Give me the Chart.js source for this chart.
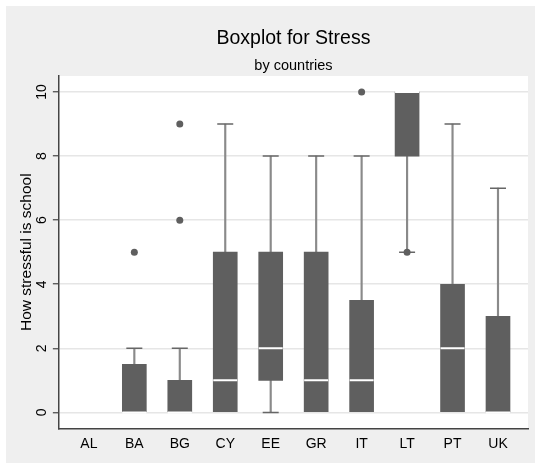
<!DOCTYPE html>
<html lang="en">
<head>
  <meta charset="UTF-8">
  <title>Boxplot for Stress</title>
  <script src="https://cdn.jsdelivr.net/npm/chart.js"></script>
  <style>
    body { margin: 0; background: #fff; }
  </style>
</head>
<body>
  <canvas id="chart" width="535" height="463"></canvas>

  <script>
    // box plot summary per country
    const countries = ['AL', 'BA', 'BG', 'CY', 'EE', 'GR', 'IT', 'LT', 'PT', 'UK'];
    const lowerAdj = [0, 0, 0, 0, 0, 0, 0, 5, 0, 0];
    const q1       = [0, 0, 0, 0, 1, 0, 0, 8, 0, 0];
    const medians  = [0, 0, 0, 1, 2, 1, 1, 10, 2, 0];
    const q3       = [0, 1.5, 1, 5, 5, 5, 3.5, 10, 4, 3];
    const upperAdj = [0, 2, 2, 9, 8, 8, 8, 10, 9, 7];
    const outliers = [[], [5], [6, 9], [], [], [], [10], [5], [], []];
    const yTicks = [0, 2, 4, 6, 8, 10];

    const SANS = "'Liberation Sans', Arial, sans-serif";
    const BOX = '#5f5f5f';

    const whiskers = [], boxes = [], mids = [], caps = [], dots = [];
    countries.forEach((c, i) => {
      if (upperAdj[i] > q3[i]) {
        whiskers.push({ x: i, y: [q3[i], upperAdj[i]] });
        caps.push({ x: i, y: upperAdj[i] });
      }
      if (lowerAdj[i] < q1[i]) {
        whiskers.push({ x: i, y: [lowerAdj[i], q1[i]] });
        caps.push({ x: i, y: lowerAdj[i] });
      }
      if (q3[i] > q1[i]) {
        boxes.push({ x: i, y: [q1[i], q3[i]] });
        mids.push({ x: i, y: medians[i] });
      }
      outliers[i].forEach(v => dots.push({ x: i, y: v }));
    });

    const panel = {
      id: 'panel',
      beforeDraw(chart) {
        const { ctx, chartArea: a } = chart;
        ctx.save();
        ctx.fillStyle = '#fff';
        ctx.fillRect(0, 0, chart.width, chart.height);
        ctx.fillStyle = '#efefef';
        ctx.fillRect(6, 6, chart.width - 6, chart.height - 6);
        ctx.fillStyle = '#fff';
        ctx.fillRect(a.left, a.top, a.right - a.left, a.bottom - a.top);
        ctx.restore();
      }
    };

    new Chart(document.getElementById('chart'), {
      type: 'bar',
      data: {
        datasets: [
          { data: whiskers, backgroundColor: '#8a8a8a', barThickness: 1.5, maxBarThickness: 1.5,
            grouped: false, borderWidth: 0, order: 5 },
          { data: boxes, backgroundColor: BOX, barThickness: 24, maxBarThickness: 24,
            grouped: false, borderWidth: 0, order: 4 },
          { type: 'scatter', data: mids, pointStyle: 'line', pointRadius: 12,
            pointBorderColor: '#fff', pointBorderWidth: 2, order: 3 },
          { type: 'scatter', data: caps, pointStyle: 'line', pointRadius: 8,
            pointBorderColor: '#666', pointBorderWidth: 1.5, order: 2 },
          { type: 'scatter', data: dots, pointStyle: 'circle', pointRadius: 3.5,
            pointBackgroundColor: BOX, pointBorderWidth: 0, order: 1 }
        ]
      },
      options: {
        responsive: false,
        animation: false,
        events: [],
        layout: { autoPadding: false, padding: { top: 6, left: 6, right: 7, bottom: 2.6 } },
        plugins: {
          legend: { display: false },
          tooltip: { enabled: false },
          title: {
            display: true, fullSize: false, text: 'Boxplot for Stress', color: '#000',
            font: { family: SANS, size: 19.5, weight: 'normal' },
            padding: { top: 20.8, bottom: 0 }
          },
          subtitle: {
            display: true, fullSize: false, text: 'by countries', color: '#000',
            font: { family: SANS, size: 14.5 },
            padding: { top: 6.6, bottom: 1.8 }
          }
        },
        scales: {
          x: {
            type: 'linear', min: -0.66, max: 9.66, offset: false,
            afterBuildTicks: axis => { axis.ticks = countries.map((c, i) => ({ value: i })); },
            ticks: {
              callback: v => countries[v], color: '#000', padding: 7.6,
              maxRotation: 0, autoSkip: false,
              font: { family: SANS, size: 14 }
            },
            grid: { display: true, offset: false, drawOnChartArea: false, drawTicks: false },
            border: { display: true, color: '#444', width: 1.5 }
          },
          y: {
            min: -0.5, max: 10.5,
            afterBuildTicks: axis => { axis.ticks = yTicks.map(v => ({ value: v })); },
            ticks: {
              color: '#000', padding: 3, minRotation: 90, maxRotation: 90, crossAlign: 'center',
              font: { family: SANS, size: 14, lineHeight: 0.85 }
            },
            grid: { color: '#e6e6e6', lineWidth: 1.5, tickColor: '#444', tickLength: 6, tickWidth: 1.2 },
            border: { display: true, color: '#444', width: 1.5 },
            title: {
              display: true, text: 'How stressful is school', color: '#000',
              font: { family: SANS, size: 15.5, lineHeight: 1.03 },
              padding: { top: 13, bottom: 0 }
            }
          }
        }
      },
      plugins: [panel]
    });
  </script>
</body>
</html>
